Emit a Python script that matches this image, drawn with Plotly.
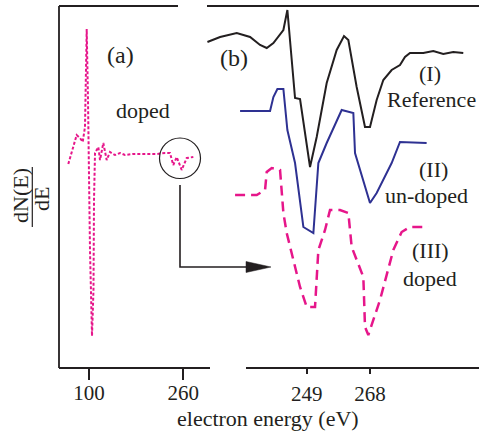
import plotly.graph_objects as go

W, H = 479, 436

# ---- data (arbitrary dN/dE units vs electron energy in eV) ----
a_energy = [64.9, 71.2, 79.1, 84.7, 89.3, 93.2, 96.1, 98.3, 101.7, 105.1, 107.6, 108.5,
            110.2, 115.8, 118.7, 124.3, 130.0, 135.6, 144.1, 152.6, 161.1, 174.7, 215.4,
            228.9, 237.4, 243.0, 248.8, 257.3, 265.8, 277.0]
a_doped = [20.4, 21.8, 23.3, 23.0, 22.6, 24.1, 33.9, 26.8, 11.8, 3.2, 7.8, 16.8,
           21.5, 22.1, 20.8, 22.5, 20.8, 21.6, 21.3, 21.5, 21.3, 21.4, 21.4,
           21.5, 21.5, 20.3, 21.1, 19.8, 21.0, 21.1]

ref_energy = [219.2, 223.0, 228.0, 232.0, 235.0, 237.0, 239.0, 242.0, 243.2, 244.0, 245.5,
              247.0, 250.0, 252.0, 255.0, 258.0, 260.2, 261.5, 264.0, 266.5, 268.0, 270.0,
              272.0, 274.5, 277.0, 278.5, 280.0, 284.0, 287.0, 290.0, 293.0, 296.0]
ref_signal = [32.6, 33.1, 33.5, 33.1, 32.3, 32.0, 32.5, 33.8, 35.8, 32.5, 27.0,
              26.9, 20.1, 23.1, 28.5, 31.8, 33.2, 32.8, 28.1, 24.1, 24.1, 26.8,
              28.8, 29.8, 30.3, 31.1, 31.5, 31.5, 31.7, 31.4, 31.6, 31.5]

undoped_energy = [229.0, 238.0, 239.0, 240.2, 242.0, 243.2, 245.5, 248.0, 251.0, 252.5,
                  255.0, 259.5, 263.0, 263.5, 268.0, 270.0, 274.5, 277.0, 285.0]
undoped_signal = [25.7, 25.7, 27.1, 27.9, 27.9, 23.8, 20.5, 14.1, 13.5, 20.5,
                  22.5, 25.8, 25.5, 21.5, 16.5, 17.5, 20.5, 22.6, 22.5]

doped_energy = [227.5, 234.0, 236.5, 237.0, 238.5, 241.0, 242.0, 243.0, 247.0, 249.0,
                251.5, 252.5, 254.5, 256.0, 259.0, 261.5, 262.5, 266.0, 266.5, 267.5,
                271.0, 275.0, 277.5, 280.0, 285.5]
doped_signal = [17.3, 17.3, 17.8, 19.6, 20.0, 19.8, 15.5, 13.5, 8.1, 6.1,
                6.1, 11.8, 13.8, 15.8, 15.8, 15.5, 12.1, 9.1, 4.1, 3.3,
                6.8, 11.8, 13.6, 14.1, 14.1]

a_ticks = [100, 260]
b_ticks = [249, 268]

PINK = "#E6168A"
BLUE = "#2E3192"
BLACK = "#231F20"
FONT = "Liberation Serif"


def px(x):
    return x / W


def py(y):
    return 1 - y / H


fig = go.Figure()
fig.add_trace(go.Scatter(x=a_energy, y=a_doped, mode="lines", xaxis="x", yaxis="y",
                         line=dict(color=PINK, width=2, dash="3px,2px")))
fig.add_trace(go.Scatter(x=ref_energy, y=ref_signal, mode="lines", xaxis="x2", yaxis="y",
                         line=dict(color=BLACK, width=2)))
fig.add_trace(go.Scatter(x=undoped_energy, y=undoped_signal, mode="lines", xaxis="x2", yaxis="y",
                         line=dict(color=BLUE, width=2)))
fig.add_trace(go.Scatter(x=doped_energy, y=doped_signal, mode="lines", xaxis="x2", yaxis="y",
                         line=dict(color=PINK, width=2.5, dash="10px,6px")))

axis_common = dict(showgrid=False, zeroline=False, showline=False, ticks="outside",
                   tickcolor=BLACK, tickwidth=1.5, tickfont=dict(family=FONT, size=21, color=BLACK),
                   fixedrange=True)

fig.update_layout(
    width=W, height=H, margin=dict(l=0, r=0, t=0, b=0),
    paper_bgcolor="white", plot_bgcolor="rgba(0,0,0,0)", showlegend=False,
    xaxis=dict(domain=[px(59), px(210)], range=[49.1, 305.3], tickvals=a_ticks,
               ticklen=11, ticklabelstandoff=-5, anchor="y", **axis_common),
    xaxis2=dict(domain=[px(200), 1], range=[216.97, 300.72], tickvals=b_ticks,
                ticklen=5, ticklabelstandoff=2, anchor="y", **axis_common),
    yaxis=dict(domain=[1 - 368 / H, 1], range=[0, 36.8], visible=False, fixedrange=True),
)

line_style = dict(color=BLACK, width=1.8)
shapes = []
for (x0, y0, x1, y1) in [(59, 6, 59, 368), (59, 6, 178, 6), (207, 6, 479, 6),
                         (59, 368, 210, 368), (246, 368, 479, 368)]:
    shapes.append(dict(type="line", xref="paper", yref="paper", x0=px(x0), y0=py(y0),
                       x1=px(x1), y1=py(y1), line=line_style))
# circle highlighting region
shapes.append(dict(type="circle", xref="paper", yref="paper", x0=px(159.5), x1=px(200.5),
                   y0=py(138), y1=py(178.5), line=dict(color=BLACK, width=1.2)))
# L-shaped arrow
shapes.append(dict(type="path", xref="paper", yref="paper",
                   path=f"M {px(180)} {py(185)} L {px(180)} {py(267)} L {px(250)} {py(267)}",
                   line=dict(color=BLACK, width=1.6)))
shapes.append(dict(type="path", xref="paper", yref="paper",
                   path=f"M {px(246)} {py(261.5)} L {px(271)} {py(267)} L {px(246)} {py(272.5)} Z",
                   fillcolor=BLACK, line=dict(color=BLACK, width=0.5)))
# fraction bar of y label
shapes.append(dict(type="line", xref="paper", yref="paper", x0=px(32.3), x1=px(32.3),
                   y0=py(167), y1=py(227), line=dict(color=BLACK, width=1.2)))
fig.update_layout(shapes=shapes)

annos = [
    ("(a)", 121, 55, 24, 0),
    ("(b)", 234, 58, 24, 0),
    ("doped", 142.5, 111, 22, 0),
    ("(I)", 430, 73, 22, 0),
    ("Reference", 431, 99, 22, 0),
    ("(II)", 433, 169, 22, 0),
    ("un-doped", 426.5, 195, 22, 0),
    ("(III)", 430, 250, 22, 0),
    ("doped", 430, 278, 22, 0),
    ("electron energy (eV)", 267.5, 418, 22, 0),
    ("dN(E)", 20, 196, 22, -90),
    ("dE", 41, 199, 22, -90),
]
for text, x, y, size, ang in annos:
    fig.add_annotation(text=text, x=px(x), y=py(y), xref="paper", yref="paper",
                       xanchor="center", yanchor="middle", showarrow=False, textangle=ang,
                       font=dict(family=FONT, size=size, color=BLACK))

fig.write_html("out.html")
